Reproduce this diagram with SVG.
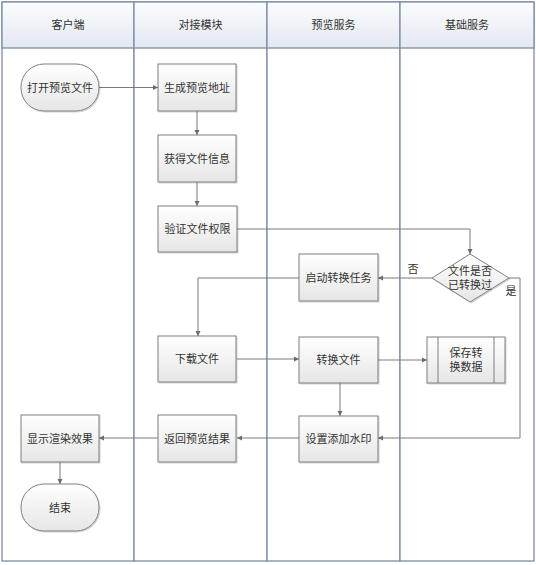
<svg xmlns="http://www.w3.org/2000/svg" width="536" height="565" viewBox="0 0 536 565">
<defs>
<linearGradient id="hdr" x1="0" y1="0" x2="0" y2="1">
<stop offset="0" stop-color="#fbfcfe"/>
<stop offset="1" stop-color="#e3e8f1"/>
</linearGradient>
<linearGradient id="box" x1="0" y1="0" x2="0" y2="1">
<stop offset="0" stop-color="#ffffff"/>
<stop offset="1" stop-color="#e6e6e6"/>
</linearGradient>
<marker id="arr" markerWidth="6" markerHeight="6" refX="5" refY="3" orient="auto" markerUnits="userSpaceOnUse">
<path d="M0,0.5 L5,3 L0,5.5 Z" fill="#6b6b6b"/>
</marker>
<filter id="sh" x="-10%" y="-10%" width="130%" height="130%">
<feDropShadow dx="1" dy="1" stdDeviation="0.6" flood-color="#000" flood-opacity="0.18"/>
</filter>
</defs>
<style>
text{font-family:"Liberation Sans","Noto Sans CJK SC",sans-serif;font-size:11px;fill:#333;text-anchor:middle;dominant-baseline:central}
.lane{fill:#ffffff;stroke:#7d8ca6;stroke-width:1.3}
.hd{fill:url(#hdr);stroke:#7d8ca6;stroke-width:1.3}
.n{fill:url(#box);stroke:#7f7f7f;stroke-width:1;filter:url(#sh)}
.c{fill:none;stroke:#7a7a7a;stroke-width:1;marker-end:url(#arr)}
.ln{fill:none;stroke:#7f7f7f;stroke-width:1}
</style>
<rect x="0" y="0" width="536" height="565" fill="#ffffff"/>
<g id="lanes">
<rect class="lane" x="2" y="2" width="132" height="559"/>
<rect class="lane" x="134" y="2" width="133" height="559"/>
<rect class="lane" x="267" y="2" width="133" height="559"/>
<rect class="lane" x="400" y="2" width="134" height="559"/>
<rect class="hd" x="2" y="2" width="132" height="46"/>
<rect class="hd" x="134" y="2" width="133" height="46"/>
<rect class="hd" x="267" y="2" width="133" height="46"/>
<rect class="hd" x="400" y="2" width="134" height="46"/>
<text x="68" y="25">客户端</text>
<text x="200.5" y="25">对接模块</text>
<text x="333.5" y="25">预览服务</text>
<text x="467" y="25">基础服务</text>
</g>
<g id="connectors">
<path class="c" d="M99,87.5 H158"/>
<path class="c" d="M197,111 V135"/>
<path class="c" d="M197,182 V206"/>
<path class="c" d="M237,229 H470 V254"/>
<path class="c" d="M432,278 H378"/>
<path class="c" d="M299,278 H198 V336"/>
<path class="c" d="M237,359 H299"/>
<path class="c" d="M378,360 H427"/>
<path class="c" d="M340,383 V416"/>
<path class="c" d="M509,278 H520 V438 H378"/>
<path class="c" d="M299,438 H237"/>
<path class="c" d="M158,438 H99"/>
<path class="c" d="M60,462 V484"/>
<text x="413" y="269">否</text>
<text x="511" y="291">是</text>
</g>
<g id="n1"><rect class="n" x="21" y="64" width="78" height="47" rx="23" ry="23"/><text x="60" y="87.5">打开预览文件</text></g>
<g id="n2"><rect class="n" x="158" y="64" width="78" height="47"/><text x="197" y="87.5">生成预览地址</text></g>
<g id="n3"><rect class="n" x="158" y="135" width="78" height="47"/><text x="197" y="158.5">获得文件信息</text></g>
<g id="n4"><rect class="n" x="158" y="206" width="79" height="46"/><text x="197.5" y="229">验证文件权限</text></g>
<g id="n5"><path class="n" d="M470,254 L509,278 L470,302 L432,278 Z"/><text x="470" y="271">文件是否</text><text x="470" y="285">已转换过</text></g>
<g id="n6"><rect class="n" x="299" y="254" width="79" height="47"/><text x="338.5" y="277.5">启动转换任务</text></g>
<g id="n7"><rect class="n" x="158" y="336" width="78" height="46"/><text x="197" y="359">下载文件</text></g>
<g id="n8"><rect class="n" x="299" y="337" width="79" height="46"/><text x="338.5" y="360">转换文件</text></g>
<g id="n9"><rect class="n" x="427" y="337" width="78" height="46"/><path class="ln" d="M438,337 V383 M494,337 V383"/><text x="466" y="353">保存转</text><text x="466" y="367">换数据</text></g>
<g id="n10"><rect class="n" x="299" y="416" width="79" height="46"/><text x="338.5" y="439">设置添加水印</text></g>
<g id="n11"><rect class="n" x="158" y="415" width="78" height="47"/><text x="197" y="438.5">返回预览结果</text></g>
<g id="n12"><rect class="n" x="21" y="415" width="78" height="47"/><text x="60" y="438.5">显示渲染效果</text></g>
<g id="n13"><rect class="n" x="21" y="484" width="78" height="47" rx="23" ry="23"/><text x="60" y="507.5">结束</text></g>
</svg>
